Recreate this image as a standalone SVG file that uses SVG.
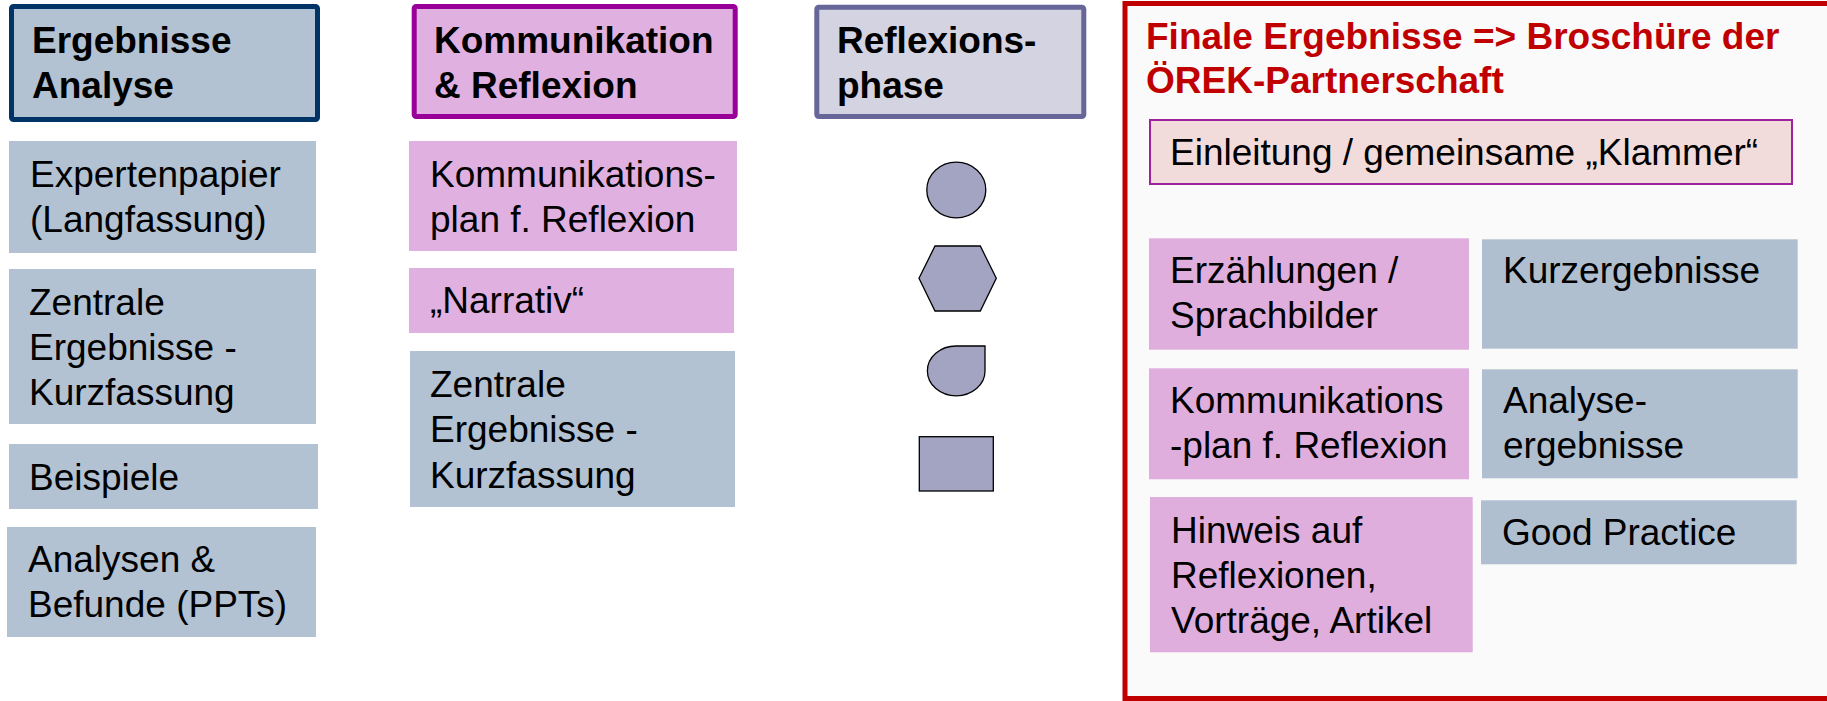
<svg xmlns="http://www.w3.org/2000/svg" width="1827" height="701" viewBox="0 0 1827 701">
<style>
text{font-family:"Liberation Sans",Arial,sans-serif;font-size:37px;fill:#000}
.b{font-weight:bold}
.red{fill:#c00000;font-weight:bold}
.blue{fill:#b2c2d2}
.blue2{fill:#afbfcf}
.pink{fill:#e0b0e0}
.pink2{fill:#dfaedd}
.shape{fill:#a3a3c2;stroke:#000;stroke-width:1.3}
</style>
<rect width="1827" height="701" fill="#fff"/>

<g id="col1">
<g id="hdr-analyse"><rect x="11.5" y="6.5" width="306" height="113" rx="2" fill="#b2c2d2" stroke="#003366" stroke-width="5"/><text class="b" x="32" y="53">Ergebnisse</text><text class="b" x="32" y="98">Analyse</text></g>
<g id="expertenpapier"><rect class="blue" x="9" y="141" width="307" height="112"/><text x="30" y="187">Expertenpapier</text><text x="30" y="232">(Langfassung)</text></g>
<g id="zentrale1"><rect class="blue" x="9" y="269" width="307" height="155"/><text x="29" y="315">Zentrale</text><text x="29" y="360">Ergebnisse -</text><text x="29" y="405">Kurzfassung</text></g>
<g id="beispiele"><rect class="blue" x="9" y="444" width="309" height="65"/><text x="29" y="490">Beispiele</text></g>
<g id="analysen"><rect class="blue" x="7" y="527" width="309" height="110"/><text x="28" y="572">Analysen &amp;</text><text x="28" y="617">Befunde (PPTs)</text></g>
</g>

<g id="col2">
<g id="hdr-komm"><rect x="414.2" y="6.5" width="321" height="110" rx="2" fill="#e0b0e0" stroke="#990099" stroke-width="5"/><text class="b" x="434" y="53">Kommunikation</text><text class="b" x="434" y="98">&amp; Reflexion</text></g>
<g id="kommplan"><rect class="pink" x="409" y="141" width="328" height="110"/><text x="430" y="187">Kommunikations-</text><text x="430" y="232">plan f. Reflexion</text></g>
<g id="narrativ"><rect class="pink" x="409" y="268" width="325" height="65"/><text x="430" y="313">„Narrativ“</text></g>
<g id="zentrale2"><rect class="blue" x="410" y="351" width="325" height="156"/><text x="430" y="397">Zentrale</text><text x="430" y="442">Ergebnisse -</text><text x="430" y="488">Kurzfassung</text></g>
</g>

<g id="col3">
<g id="hdr-refl"><rect x="816.8" y="7.2" width="267" height="109.3" rx="2" fill="#d3d3e2" stroke="#666699" stroke-width="5"/><text class="b" x="837" y="53">Reflexions-</text><text class="b" x="837" y="98">phase</text></g>
<g id="s-ellipse"><ellipse class="shape" cx="956.3" cy="190" rx="29.5" ry="27.8"/></g>
<g id="s-hexagon"><polygon class="shape" points="919,278.3 935,246 980.3,246 996.3,278.3 980.3,311 935,311"/></g>
<g id="s-teardrop"><path class="shape" d="M956.2,346 L985,346 L985,371 A28.8,24.8 0 0 1 956.2,395.8 A28.8,24.8 0 0 1 927.4,371 A28.8,24.8 0 0 1 956.2,346 Z"/></g>
<g id="s-rect"><rect class="shape" x="919.3" y="436.7" width="74" height="54.3"/></g>
</g>

<g id="final">
<rect x="1125" y="3.5" width="1699" height="695" fill="#fafafa" stroke="#c00000" stroke-width="5"/>
<text class="red" x="1146" y="49">Finale Ergebnisse =&gt; Broschüre der</text>
<text class="red" x="1146" y="93">ÖREK-Partnerschaft</text>
<g id="einleitung"><rect x="1150" y="120" width="642" height="64" fill="#f2dcdb" stroke="#a020a0" stroke-width="2"/><text x="1170" y="165">Einleitung / gemeinsame „Klammer“</text></g>
<g id="erzaehlungen"><rect class="pink2" x="1149" y="238.3" width="320" height="111.4"/><text x="1170" y="283">Erzählungen /</text><text x="1170" y="328">Sprachbilder</text></g>
<g id="kurzergebnisse"><rect class="blue2" x="1482" y="239.3" width="315.7" height="109.4"/><text x="1503" y="283">Kurzergebnisse</text></g>
<g id="kommplan2"><rect class="pink2" x="1149" y="368.3" width="320" height="111"/><text x="1170" y="413">Kommunikations</text><text x="1170" y="458">-plan f. Reflexion</text></g>
<g id="analyseergebnisse"><rect class="blue2" x="1482" y="369.3" width="315.7" height="109"/><text x="1503" y="413">Analyse-</text><text x="1503" y="458">ergebnisse</text></g>
<g id="hinweis"><rect class="pink2" x="1150" y="497" width="322.7" height="155.3"/><text x="1171" y="543">Hinweis auf</text><text x="1171" y="588">Reflexionen,</text><text x="1171" y="633">Vorträge, Artikel</text></g>
<g id="goodpractice"><rect class="blue2" x="1481" y="500.3" width="315.7" height="64"/><text x="1502" y="545">Good Practice</text></g>
</g>

<g id="connectors"></g>
</svg>
